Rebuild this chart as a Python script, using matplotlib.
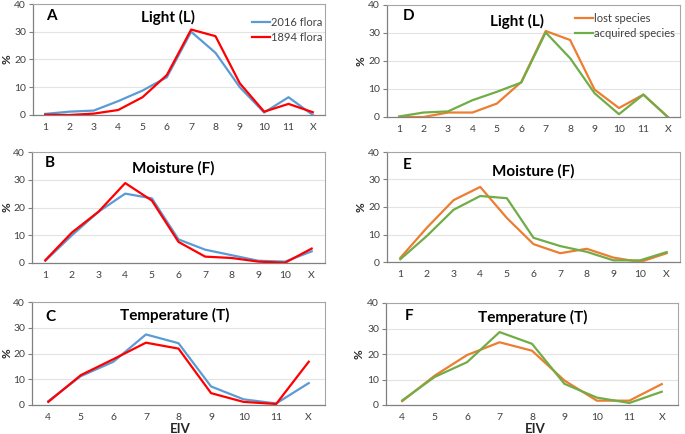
import matplotlib
matplotlib.use("Agg")
import matplotlib.pyplot as plt

plt.rcParams['font.family'] = ['Lato', 'DejaVu Sans']

# ---- data ----
cats_L = ['1', '2', '3', '4', '5', '6', '7', '8', '9', '10', '11', 'X']
cats_F = ['1', '2', '3', '4', '5', '6', '7', '8', '9', '10', 'X']
cats_T = ['4', '5', '6', '7', '8', '9', '10', '11', 'X']

flora2016_L = [0.4, 1.2, 1.6, 5.0, 8.8, 13.6, 30.0, 22.4, 10.0, 0.9, 6.4, 0.0]
flora1894_L = [0.1, 0.0, 0.5, 1.8, 6.4, 14.4, 30.8, 28.4, 11.4, 1.2, 4.0, 1.0]
flora2016_F = [0.8, 10.0, 18.5, 25.0, 23.3, 8.5, 4.8, 2.8, 0.8, 0.5, 4.2]
flora1894_F = [1.0, 11.0, 18.5, 28.8, 22.5, 7.6, 2.3, 1.8, 0.5, 0.1, 5.2]
flora2016_T = [1.5, 11.2, 16.8, 27.4, 24.0, 7.2, 2.2, 0.6, 8.5]
flora1894_T = [1.2, 11.6, 17.8, 24.2, 21.9, 4.6, 1.2, 0.4, 16.8]

lost_L = [0.0, 0.0, 1.6, 1.6, 4.8, 12.5, 30.7, 27.5, 9.8, 3.2, 8.0, 0.0]
acq_L = [0.2, 1.6, 2.0, 6.0, 9.0, 12.3, 30.2, 21.0, 8.5, 1.0, 8.0, 0.0]
lost_F = [1.5, 12.5, 22.5, 27.3, 16.0, 6.5, 3.2, 4.8, 1.6, 0.0, 3.2]
acq_F = [1.0, 9.5, 19.0, 24.0, 23.2, 8.8, 5.8, 3.7, 0.6, 0.6, 3.6]
lost_T = [1.5, 11.5, 19.6, 24.6, 21.3, 9.6, 1.7, 1.7, 8.2]
acq_T = [1.8, 11.0, 16.8, 28.6, 24.0, 8.3, 2.9, 0.8, 5.2]

titles = ['Light (L)', 'Moisture (F)', 'Temperature (T)']
yticks = [0, 10, 20, 30, 40]

W, H = 685, 434
fig = plt.figure(figsize=(W / 100, H / 100), dpi=100)

def ax_at(l, r, t, b):
    return fig.add_axes([l / W, 1 - b / H, (r - l) / W, (b - t) / H])

def ftext(x, y, s, **kw):
    return fig.text(x / W, 1 - y / H, s, **kw)

BLUE, RED = '#5B9BD5', '#FF0000'
ORANGE, GREEN = '#ED7D31', '#70AD47'
TXT = '#404040'

panels = [
    # (box, letter, letter pos, title, title pos, cats, s1, s2, c1, c2, labels, xlabel, ylabel x)
    ((33, 325, 4, 115), 'A', (46, 16), titles[0], (168, 17), cats_L, flora2016_L, flora1894_L,
     BLUE, RED, ('2016 flora', '1894 flora'), None, 7),
    ((32, 325, 152, 263), 'B', (45, 163), titles[1], (173, 168), cats_F, flora2016_F, flora1894_F,
     BLUE, RED, None, None, 7),
    ((32, 325, 302, 405), 'C', (45, 317), titles[2], (175, 315), cats_T, flora2016_T, flora1894_T,
     BLUE, RED, None, (180, 433), 7),
    ((387, 680, 5, 117), 'D', (403, 16), titles[0], (517, 21), cats_L, lost_L, acq_L,
     ORANGE, GREEN, ('lost species', 'acquired species'), None, 361),
    ((387, 680, 152, 262), 'E', (403, 165), titles[1], (533, 171), cats_F, lost_F, acq_F,
     ORANGE, GREEN, None, None, 361),
    ((386, 678, 303, 405), 'F', (405, 316), titles[2], (533, 317), cats_T, lost_T, acq_T,
     ORANGE, GREEN, None, (535, 433), 359),
]

for box, letter, lpos, title, tpos, cats, s1, s2, c1, c2, labels, xl, ylx in panels:
    ax = ax_at(*box)
    x = list(range(len(cats)))
    ax.plot(x, s1, color=c1, lw=1.6, label=labels[0] if labels else None, zorder=3)
    ax.plot(x, s2, color=c2, lw=1.6, label=labels[1] if labels else None, zorder=4)
    ax.set_xlim(-0.5, len(cats) - 0.5)
    ax.set_ylim(0, 40)
    ax.set_yticks(yticks)
    ax.set_xticks(x)
    ax.set_xticklabels(cats)
    ax.tick_params(axis='x', length=0, pad=6, labelsize=7.5, labelcolor=TXT)
    ax.tick_params(axis='y', length=3, width=0.8, color='#808080', pad=2,
                   labelsize=7.5, labelcolor=TXT)
    ax.grid(axis='y', color='#E3E3E3', lw=0.8, zorder=0)
    ax.set_axisbelow(True)
    for s in ['top', 'right']:
        ax.spines[s].set_color('#A6A6A6')
        ax.spines[s].set_linewidth(0.8)
    for s in ['left', 'bottom']:
        ax.spines[s].set_color('#808080')
        ax.spines[s].set_linewidth(0.9)
    l, r, t, b = box
    ftext(ylx, (t + b) / 2, '%', fontsize=8.5, fontweight='bold', color='#262626',
          rotation=90, ha='center', va='center')
    if xl:
        ftext(xl[0], xl[1], 'EIV', fontsize=9.5, fontweight='bold', color='#262626',
              ha='center', va='baseline')
    ftext(lpos[0], lpos[1], letter, fontsize=11, fontweight='bold',
          ha='left', va='center', color='#000000')
    ftext(tpos[0], tpos[1], title, fontsize=11, fontweight='bold',
          ha='center', va='center', color='#000000')
    if labels:
        hx = 252 if letter == 'A' else 575
        ty = 17 if letter == 'A' else 13
        ax.legend(loc='upper left',
                  bbox_to_anchor=((hx - l) / (r - l), 1 - (ty - t) / (b - t)),
                  frameon=False, fontsize=8, handlelength=1.6, handletextpad=0.1,
                  labelspacing=0.35, borderpad=0, borderaxespad=0,
                  labelcolor='#404040')

fig.savefig('out.png', dpi=100)
